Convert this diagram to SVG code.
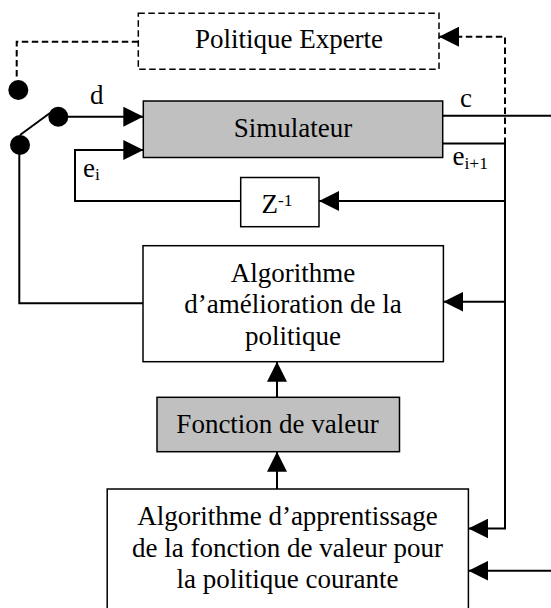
<svg xmlns="http://www.w3.org/2000/svg" width="551" height="608" viewBox="0 0 551 608">
<style>
text{font-family:"Liberation Serif","Times New Roman",serif;font-size:27px;fill:#000}
.c{text-anchor:middle}
.sub{font-size:17.5px}
.box{fill:#fff;stroke:#000;stroke-width:1.5}
.grey{fill:#c0c0c0;stroke:#000;stroke-width:1.5}
.dbox{fill:none;stroke:#000;stroke-width:1.5;stroke-dasharray:6.5,3.5}
.ln{fill:none;stroke:#000;stroke-width:2}
.dl{fill:none;stroke:#000;stroke-width:2;stroke-dasharray:6.5,3.5}
</style>
<defs>
<marker id="ah" markerUnits="userSpaceOnUse" markerWidth="20" markerHeight="20" refX="20" refY="10" orient="auto">
<path d="M0,0 L20,10 L0,20 z" fill="#000"/>
</marker>
</defs>
<rect width="551" height="608" fill="#fff"/>

<g id="connectors">
<polyline class="dl" points="138.3,41.7 16.7,41.7 16.7,80"/>
<polyline class="dl" points="505,144 505,36.7 439,36.7" marker-end="url(#ah)"/>
<line class="ln" x1="20" y1="135" x2="50" y2="113"/>
<line class="ln" x1="58" y1="116.7" x2="143.3" y2="116.7" marker-end="url(#ah)"/>
<line class="ln" x1="442.7" y1="115.7" x2="551" y2="115.7"/>
<polyline class="ln" points="442.7,143.5 505,143.5 505,528.5 468.4,528.5" marker-end="url(#ah)"/>
<line class="ln" x1="505" y1="201" x2="319" y2="201" marker-end="url(#ah)"/>
<polyline class="ln" points="240.7,201 75,201 75,150 143.3,150" marker-end="url(#ah)"/>
<line class="ln" x1="505" y1="301.7" x2="443.4" y2="301.7" marker-end="url(#ah)"/>
<polyline class="ln" points="143,303.3 19.3,303.3 19.3,145"/>
<line class="ln" x1="277" y1="397.3" x2="277" y2="361.7" marker-end="url(#ah)"/>
<line class="ln" x1="277" y1="489" x2="277" y2="451.7" marker-end="url(#ah)"/>
<line class="ln" x1="551" y1="570.7" x2="468.4" y2="570.7" marker-end="url(#ah)"/>
<circle cx="18.3" cy="90" r="10" fill="#000"/>
<circle cx="58.3" cy="116.7" r="10" fill="#000"/>
<circle cx="20" cy="145" r="10" fill="#000"/>
<text class="c" x="96.7" y="104">d</text>
<text class="c" x="466" y="107">c</text>
<text x="83" y="177">e<tspan class="sub" dy="3">i</tspan></text>
<text x="452.5" y="165">e<tspan class="sub" dy="3.5">i+1</tspan></text>
</g>

<g id="expert">
<rect class="dbox" x="138.3" y="13.3" width="300.7" height="56"/>
<text class="c" x="289" y="48">Politique Experte</text>
</g>

<g id="simulateur">
<rect class="grey" x="143.3" y="101" width="299.4" height="56.5"/>
<text class="c" x="293" y="137">Simulateur</text>
</g>

<g id="delay">
<rect class="box" x="240.7" y="177.5" width="78.3" height="49.2"/>
<text x="261.5" y="213.3">Z<tspan class="sub" dy="-7.5">-1</tspan></text>
</g>

<g id="amelioration">
<rect class="box" x="143" y="245.7" width="300.4" height="116"/>
<text class="c" x="293" y="281.7">Algorithme</text>
<text class="c" x="293" y="313.3">d’amélioration de la</text>
<text class="c" x="293" y="345">politique</text>
</g>

<g id="valeur">
<rect class="grey" x="157" y="397.3" width="242.5" height="54.4"/>
<text class="c" x="277.6" y="433.3">Fonction de valeur</text>
</g>

<g id="apprentissage">
<rect class="box" x="107.2" y="489" width="361.2" height="125"/>
<text class="c" x="287.5" y="525">Algorithme d’apprentissage</text>
<text class="c" x="287.5" y="556.7">de la fonction de valeur pour</text>
<text class="c" x="287.5" y="588.3">la politique courante</text>
</g>
</svg>
